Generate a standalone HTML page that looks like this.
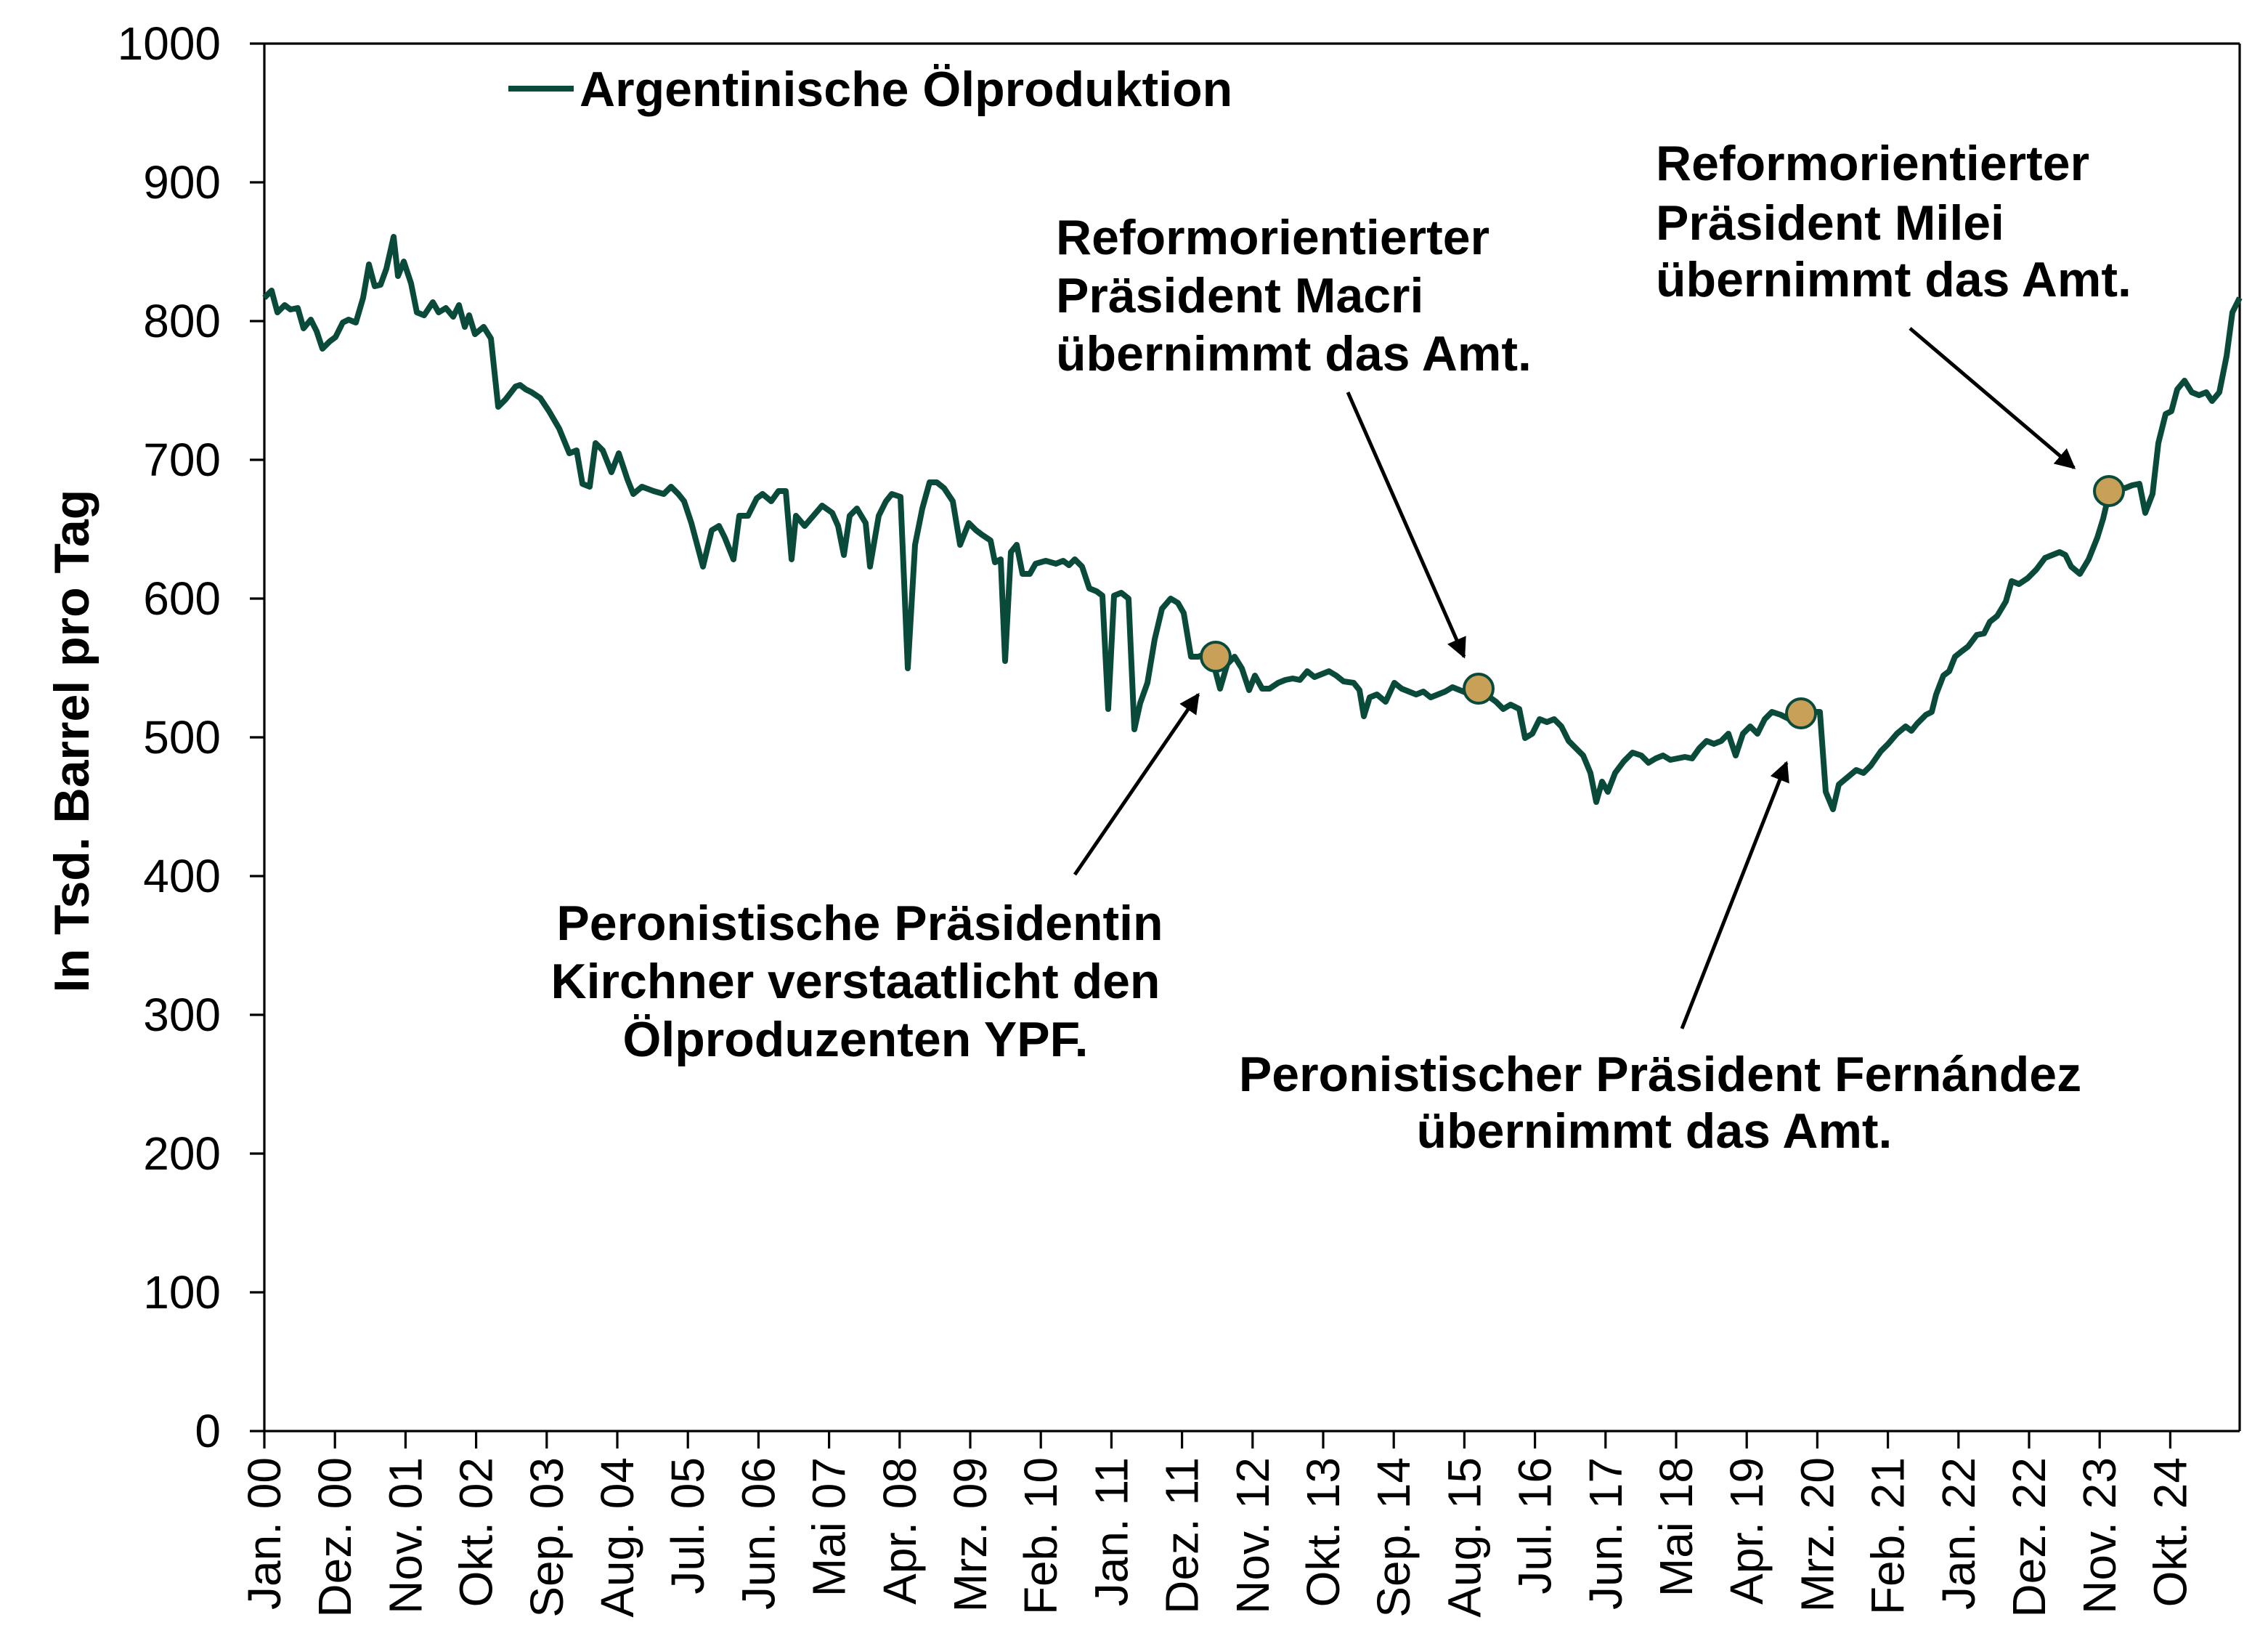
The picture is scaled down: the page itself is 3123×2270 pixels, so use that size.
<!DOCTYPE html>
<html><head><meta charset="utf-8"><style>
html,body{margin:0;padding:0;background:#fff;}
svg{display:block;}
text{font-family:"Liberation Sans",Arial,sans-serif;fill:#000;}
.b{font-weight:bold;}
</style></head><body>
<svg width="3123" height="2270" viewBox="0 0 1561.5 1135" xmlns="http://www.w3.org/2000/svg">
<defs>
<marker id="ah2" viewBox="0 0 10 10" markerWidth="14" markerHeight="14" refX="9" refY="5" orient="auto" markerUnits="userSpaceOnUse"><path d="M0,0 L10,5 L0,10 z" fill="#000"/></marker></defs>
<g stroke="#000" stroke-width="1.6" fill="none">
<line x1="182" y1="30" x2="182" y2="985"/>
<line x1="182" y1="30" x2="1542" y2="30"/>
<line x1="1542" y1="30" x2="1542" y2="985"/>
<line x1="172" y1="985" x2="1542" y2="985"/>
<line x1="172" y1="30" x2="182" y2="30"/><line x1="172" y1="125.5" x2="182" y2="125.5"/><line x1="172" y1="221" x2="182" y2="221"/><line x1="172" y1="316.5" x2="182" y2="316.5"/><line x1="172" y1="412" x2="182" y2="412"/><line x1="172" y1="507.5" x2="182" y2="507.5"/><line x1="172" y1="603" x2="182" y2="603"/><line x1="172" y1="698.5" x2="182" y2="698.5"/><line x1="172" y1="794" x2="182" y2="794"/><line x1="172" y1="889.5" x2="182" y2="889.5"/>
<line x1="182" y1="985" x2="182" y2="997"/><line x1="230.6" y1="985" x2="230.6" y2="997"/><line x1="279.2" y1="985" x2="279.2" y2="997"/><line x1="327.8" y1="985" x2="327.8" y2="997"/><line x1="376.4" y1="985" x2="376.4" y2="997"/><line x1="425" y1="985" x2="425" y2="997"/><line x1="473.6" y1="985" x2="473.6" y2="997"/><line x1="522.2" y1="985" x2="522.2" y2="997"/><line x1="570.8" y1="985" x2="570.8" y2="997"/><line x1="619.4" y1="985" x2="619.4" y2="997"/><line x1="668" y1="985" x2="668" y2="997"/><line x1="716.6" y1="985" x2="716.6" y2="997"/><line x1="765.2" y1="985" x2="765.2" y2="997"/><line x1="813.8" y1="985" x2="813.8" y2="997"/><line x1="862.4" y1="985" x2="862.4" y2="997"/><line x1="911" y1="985" x2="911" y2="997"/><line x1="959.6" y1="985" x2="959.6" y2="997"/><line x1="1008.2" y1="985" x2="1008.2" y2="997"/><line x1="1056.8" y1="985" x2="1056.8" y2="997"/><line x1="1105.4" y1="985" x2="1105.4" y2="997"/><line x1="1154" y1="985" x2="1154" y2="997"/><line x1="1202.6" y1="985" x2="1202.6" y2="997"/><line x1="1251.2" y1="985" x2="1251.2" y2="997"/><line x1="1299.8" y1="985" x2="1299.8" y2="997"/><line x1="1348.4" y1="985" x2="1348.4" y2="997"/><line x1="1397" y1="985" x2="1397" y2="997"/><line x1="1445.6" y1="985" x2="1445.6" y2="997"/><line x1="1494.2" y1="985" x2="1494.2" y2="997"/>
</g>
<g font-size="32" text-anchor="end">
<text x="152" y="41">1000</text><text x="152" y="136.5">900</text><text x="152" y="232">800</text><text x="152" y="327.5">700</text><text x="152" y="423">600</text><text x="152" y="518.5">500</text><text x="152" y="614">400</text><text x="152" y="709.5">300</text><text x="152" y="805">200</text><text x="152" y="900.5">100</text><text x="152" y="996">0</text>
</g>
<g font-size="32" text-anchor="end">
<text transform="translate(193,1003) rotate(-90)">Jan. 00</text>
<text transform="translate(241.6,1003) rotate(-90)">Dez. 00</text>
<text transform="translate(290.2,1003) rotate(-90)">Nov. 01</text>
<text transform="translate(338.8,1003) rotate(-90)">Okt. 02</text>
<text transform="translate(387.4,1003) rotate(-90)">Sep. 03</text>
<text transform="translate(436,1003) rotate(-90)">Aug. 04</text>
<text transform="translate(484.6,1003) rotate(-90)">Jul. 05</text>
<text transform="translate(533.2,1003) rotate(-90)">Jun. 06</text>
<text transform="translate(581.8,1003) rotate(-90)">Mai  07</text>
<text transform="translate(630.4,1003) rotate(-90)">Apr. 08</text>
<text transform="translate(679,1003) rotate(-90)">Mrz. 09</text>
<text transform="translate(727.6,1003) rotate(-90)">Feb. 10</text>
<text transform="translate(776.2,1003) rotate(-90)">Jan. 11</text>
<text transform="translate(824.8,1003) rotate(-90)">Dez. 11</text>
<text transform="translate(873.4,1003) rotate(-90)">Nov. 12</text>
<text transform="translate(922,1003) rotate(-90)">Okt. 13</text>
<text transform="translate(970.6,1003) rotate(-90)">Sep. 14</text>
<text transform="translate(1019.2,1003) rotate(-90)">Aug. 15</text>
<text transform="translate(1067.8,1003) rotate(-90)">Jul. 16</text>
<text transform="translate(1116.4,1003) rotate(-90)">Jun. 17</text>
<text transform="translate(1165,1003) rotate(-90)">Mai  18</text>
<text transform="translate(1213.6,1003) rotate(-90)">Apr. 19</text>
<text transform="translate(1262.2,1003) rotate(-90)">Mrz. 20</text>
<text transform="translate(1310.8,1003) rotate(-90)">Feb. 21</text>
<text transform="translate(1359.4,1003) rotate(-90)">Jan. 22</text>
<text transform="translate(1408,1003) rotate(-90)">Dez. 22</text>
<text transform="translate(1456.6,1003) rotate(-90)">Nov. 23</text>
<text transform="translate(1505.2,1003) rotate(-90)">Okt. 24</text>
</g>
<text class="b" font-size="34" text-anchor="middle" transform="translate(61,510) rotate(-90)">In Tsd. Barrel pro Tag</text>
<line x1="350" y1="61" x2="395" y2="61" stroke="#0a4a3b" stroke-width="4"/>
<text class="b" font-size="34" x="399" y="73">Argentinische Ölproduktion</text>
<polyline fill="none" stroke="#0a4a3b" stroke-width="4" stroke-linejoin="round" points="182,205 187,200 191,215 196,210 200,213 205,212 209,226 214,220 218,228 222,240 227,235 231,232 236,222 240,220 245,222 250,205 254,182 258,197 262,196 266,185 271,163 274,190 278,180 283,195 287,215 292,217 298,208 302,215 307,212 312,218 316,210 320,225 323,217 327,230 333,225 338,233 343,280 348,275 355,266 358,265 362,268 366,270 372,274 378,283 385,295 392,312 397,310 401,333 406,335 410,305 415,310 421,325 426,312 432,330 436,340 442,335 450,338 457,340 462,335 467,340 471,345 476,360 484,390 490,365 495,362 499,370 505,385 509,355 515,355 521,343 525,340 531,345 536,338 541,338 545,385 548,355 554,362 560,355 566,348 573,353 577,362 581,382 585,355 590,350 596,360 599,390 605,355 610,345 614,340 620,342 625,460 630,375 635,350 640,332 645,332 650,336 656,345 661,375 667,360 672,365 676,368 682,372 685,387 689,385 692,455 696,380 700,375 704,395 709,395 713,388 720,386 727,388 732,386 736,389 740,385 745,390 750,405 755,407 759,410 763,488 767,410 772,408 777,412 781,502 785,484 790,470 795,440 800,419 806,412 811,415 815,422 820,452 825,452 830,450 835,455 840,474 845,457 850,452 855,460 860,475 864,465 869,474 874,474 880,470 885,468 890,467 895,468 900,462 905,466 910,464 915,462 920,465 925,469 932,470 936,475 939,493 943,480 948,478 954,483 960,470 965,474 970,476 975,478 980,476 985,480 990,478 995,476 1000,473 1005,475 1010,477 1018,474 1023,478 1030,483 1035,488 1040,485 1046,488 1050,508 1055,505 1060,495 1065,497 1070,495 1075,500 1080,510 1085,515 1090,520 1095,532 1099,552 1103,538 1107,545 1112,532 1118,524 1124,518 1130,520 1135,525 1140,522 1145,520 1150,523 1155,522 1160,521 1165,522 1170,515 1175,510 1180,512 1185,510 1190,505 1195,520 1200,505 1205,500 1210,505 1215,495 1220,490 1226,492 1232,495 1240,491 1245,495 1250,490 1253,490 1257,545 1262,557 1266,540 1272,535 1278,530 1283,532 1288,527 1295,517 1300,512 1306,505 1312,500 1316,503 1320,498 1326,492 1330,490 1333,478 1338,465 1342,462 1346,452 1351,448 1355,445 1361,437 1366,436 1370,428 1375,424 1381,414 1385,400 1390,402 1396,398 1402,392 1408,384 1413,382 1418,380 1422,382 1426,390 1432,395 1438,385 1444,370 1448,357 1452,340 1458,335 1463,336 1468,334 1473,333 1477,353 1482,340 1486,305 1491,285 1495,283 1499,268 1504,262 1509,270 1514,272 1519,270 1523,276 1528,270 1533,245 1537,215 1542,205"/>
<g fill="#c9a057" stroke="#0a4a3b" stroke-width="2">
<circle cx="837" cy="452" r="10"/><circle cx="1018" cy="474" r="10"/><circle cx="1240" cy="491" r="10"/><circle cx="1452" cy="338" r="10"/>
</g>
<g stroke="#000" stroke-width="2.5" marker-end="url(#ah2)">
<line x1="740" y1="602" x2="825" y2="478"/>
<line x1="928" y1="270" x2="1008" y2="452"/>
<line x1="1158" y1="708" x2="1230" y2="525"/>
<line x1="1315" y1="226" x2="1428" y2="322"/>
</g>
<g class="b" font-size="34" font-weight="bold">
<text x="727" y="175">Reformorientierter</text><text x="727" y="215">Präsident Macri</text><text x="727" y="255">übernimmt das Amt.</text>
<text x="1140" y="124">Reformorientierter</text><text x="1140" y="165">Präsident Milei</text><text x="1140" y="204">übernimmt das Amt.</text>
<g text-anchor="middle">
<text x="592" y="647">Peronistische Präsidentin</text><text x="589" y="687">Kirchner verstaatlicht den</text><text x="589" y="727">Ölproduzenten YPF.</text>
<text x="1143" y="751">Peronistischer Präsident Fernández</text><text x="1139" y="790">übernimmt das Amt.</text>
</g>
</g>
</svg>
</body></html>
